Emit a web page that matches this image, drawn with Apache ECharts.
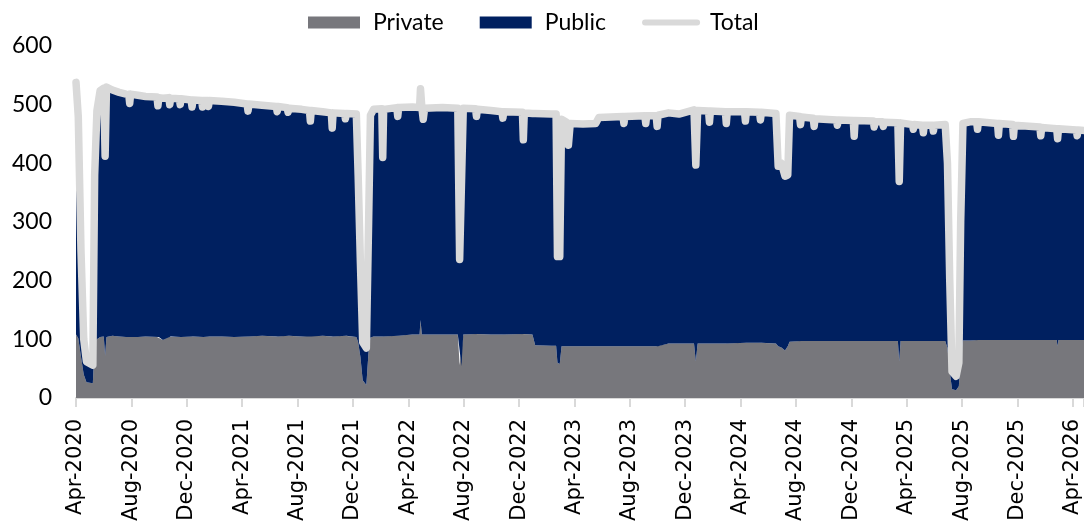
<!DOCTYPE html>
<html>
<head>
<meta charset="utf-8">
<script src="https://cdn.jsdelivr.net/npm/echarts@6/dist/echarts.min.js"></script>
<style>
  html, body { margin: 0; padding: 0; background: #fff; }
  #chart { width: 1084px; height: 524px; }
</style>
</head>
<body>
<div id="chart"></div>
<script>
  // values at its turning points (dips, steps, plateaus)
  const dates = [
    '2020-04-01','2020-04-06','2020-04-12','2020-04-18','2020-04-24','2020-05-08','2020-05-12','2020-05-17','2020-05-24','2020-06-01',
    '2020-06-04','2020-06-07','2020-06-20','2020-07-05','2020-07-20','2020-07-26','2020-07-28','2020-07-30','2020-08-15','2020-09-01',
    '2020-09-26','2020-09-28','2020-09-30','2020-10-09','2020-10-22','2020-10-24','2020-10-26','2020-11-14','2020-11-16','2020-11-18',
    '2020-12-10','2020-12-12','2020-12-14','2021-01-02','2021-01-04','2021-01-06','2021-01-15','2021-01-17','2021-01-19','2021-02-15',
    '2021-03-15','2021-04-12','2021-04-14','2021-04-16','2021-05-15','2021-06-15','2021-06-17','2021-06-19','2021-07-09','2021-07-11',
    '2021-07-13','2021-08-10','2021-08-27','2021-08-29','2021-08-31','2021-09-25','2021-10-14','2021-10-16','2021-10-18','2021-11-12',
    '2021-11-14','2021-11-16','2021-12-08','2021-12-12','2021-12-17','2021-12-22','2021-12-30','2022-01-04','2022-01-08','2022-01-15',
    '2022-02-02','2022-02-04','2022-02-06','2022-03-07','2022-03-09','2022-03-11','2022-04-10','2022-04-26','2022-04-28','2022-05-01',
    '2022-05-04','2022-05-07','2022-06-15','2022-07-19','2022-07-23','2022-07-27','2022-07-31','2022-08-27','2022-08-29','2022-08-31',
    '2022-09-30','2022-10-24','2022-10-26','2022-10-28','2022-12-08','2022-12-10','2022-12-12','2022-12-30','2023-01-05','2023-02-10',
    '2023-02-20','2023-02-23','2023-02-28','2023-03-04','2023-03-15','2023-03-19','2023-03-23','2023-04-20','2023-05-18','2023-05-25',
    '2023-07-17','2023-07-19','2023-07-21','2023-09-03','2023-09-05','2023-09-07','2023-09-28','2023-09-30','2023-10-02','2023-10-25',
    '2023-11-17','2023-12-20','2023-12-24','2023-12-28','2024-01-21','2024-01-23','2024-01-25','2024-02-27','2024-02-29','2024-03-02',
    '2024-04-09','2024-04-11','2024-04-13','2024-05-12','2024-05-14','2024-05-16','2024-06-17','2024-06-22','2024-06-29','2024-07-07',
    '2024-07-13','2024-07-17','2024-08-08','2024-08-10','2024-08-12','2024-09-07','2024-09-09','2024-09-11','2024-10-28','2024-10-30',
    '2024-11-01','2024-12-04','2024-12-06','2024-12-08','2025-01-17','2025-01-19','2025-01-21','2025-02-06','2025-02-08','2025-02-10',
    '2025-03-12','2025-03-15','2025-03-18','2025-04-13','2025-04-15','2025-04-17','2025-05-05','2025-05-07','2025-05-09','2025-05-27',
    '2025-05-29','2025-05-31','2025-06-24','2025-06-29','2025-07-04','2025-07-09','2025-07-18','2025-07-24','2025-07-28','2025-08-02',
    '2025-08-20','2025-09-01','2025-09-03','2025-09-05','2025-10-17','2025-10-19','2025-10-21','2025-11-19','2025-11-21','2025-11-23',
    '2026-01-18','2026-01-20','2026-01-22','2026-02-24','2026-02-26','2026-02-28','2026-04-08','2026-04-10','2026-04-12','2026-04-26'
  ]

  const privateVals = [
    108,102,70,40,27,25,95,100,104,105,
    72,104,106,105,104,105,103,104,104,105,
    104,103,104,99,104,103,105,104,103,104,
    105,104,105,104,103,104,105,104,105,105,
    104,105,104,105,106,105,104,105,106,104,
    106,105,106,104,105,106,105,104,105,106,
    105,106,104,95,70,30,22,80,103,105,
    105,103,105,106,105,106,108,108,133,108,
    107,108,108,108,56,54,108,109,108,109,
    108,108,107,108,109,108,109,108,90,89,
    89,60,58,88,88,87,88,88,88,88,
    88,87,88,88,87,88,88,87,88,93,
    93,93,62,93,93,92,93,93,92,93,
    94,93,94,94,93,94,93,88,86,81,
    88,96,97,96,97,97,96,97,97,96,
    97,97,96,97,97,96,97,97,96,97,
    97,62,97,97,96,97,97,96,97,97,
    96,97,97,85,45,15,13,20,70,98,
    98,99,98,99,99,98,99,99,98,99,
    99,98,99,99,88,99,99,98,99,99
  ]

  const publicVals = [
    430,378,180,60,35,31,285,390,420,423,
    340,426,419,416,414,412,399,414,412,409,
    409,395,408,412,408,397,406,406,397,406,
    403,392,403,403,393,403,402,393,402,401,
    400,396,385,396,393,392,384,392,389,383,
    388,387,384,368,385,382,381,356,381,379,
    371,379,380,285,160,65,63,220,379,387,
    388,307,387,389,375,389,388,387,394,387,
    368,386,387,386,180,182,386,384,372,383,
    382,380,370,380,378,332,377,377,395,395,
    395,181,183,387,382,344,380,379,380,390,
    392,381,392,393,381,393,393,376,394,393,
    391,398,335,397,396,378,396,395,376,395,
    394,379,394,393,381,393,392,307,314,297,
    292,386,383,370,382,380,367,379,377,369,
    377,376,350,376,375,366,374,374,367,373,
    372,307,372,369,362,369,368,356,368,368,
    359,368,369,315,155,30,24,40,230,370,
    373,372,360,372,369,350,369,367,348,366,
    363,349,362,360,354,360,358,349,358,357
  ]

  const totalVals = [
    538,480,250,100,62,56,380,490,524,528,
    412,530,525,521,518,517,502,518,516,514,
    513,498,512,511,512,500,511,510,500,510,
    508,496,508,507,496,507,507,497,507,506,
    504,501,489,501,499,497,488,497,495,487,
    494,492,490,472,490,488,486,460,486,485,
    476,485,484,380,230,95,85,300,482,492,
    493,410,492,495,480,495,496,495,527,495,
    475,494,495,494,236,236,494,493,480,492,
    490,488,477,488,487,440,486,485,485,484,
    484,241,241,475,470,431,468,467,468,478,
    480,468,480,481,468,481,481,463,482,486,
    484,491,397,490,489,470,489,488,468,488,
    488,472,488,487,474,487,485,395,400,378,
    380,482,480,466,479,477,463,476,474,465,
    474,473,446,473,472,462,471,471,463,470,
    469,369,469,466,458,466,465,452,465,465,
    455,465,466,400,200,45,37,60,300,468,
    471,471,458,471,468,448,468,466,446,465,
    462,447,461,459,442,459,457,447,457,456
  ]

  const tickLabels = ['Apr-2020', 'Aug-2020', 'Dec-2020', 'Apr-2021', 'Aug-2021', 'Dec-2021', 'Apr-2022',
    'Aug-2022', 'Dec-2022', 'Apr-2023', 'Aug-2023', 'Dec-2023', 'Apr-2024', 'Aug-2024', 'Dec-2024',
    'Apr-2025', 'Aug-2025', 'Dec-2025', 'Apr-2026']

  const pairs = vals => vals.map((v, i) => [dates[i], v])

  const myChart = echarts.init(document.getElementById('chart'))
  const option = {
    animation: false,
    grid: { left: 76, right: 0, top: 46, bottom: 124.5 },
    legend: {
      top: 6,
      left: 303,
      itemWidth: 52,
      itemHeight: 12,
      itemGap: 36,
      textStyle: { fontFamily: 'Lato', fontSize: 23, color: '#000', padding: [0, 0, 0, 8] },
      data: [
        { name: 'Private', icon: 'rect' },
        { name: 'Public', icon: 'rect' },
        { name: 'Total', itemStyle: { opacity: 0 }, lineStyle: { width: 6, cap: 'round' } }
      ]
    },
    xAxis: [
      {
        // time axis that carries the data
        type: 'time',
        min: '2020-04-01',
        max: '2026-04-25',
        show: false
      },
      {
        // months since Apr-2020, only for the evenly spaced 4-month ticks
        type: 'value',
        position: 'bottom',
        min: 0,
        max: 72.8,
        interval: 4,
        splitLine: { show: false },
        axisLine: { show: true, lineStyle: { color: '#D9D9D9', width: 2 } },
        axisTick: { show: true, length: 9, lineStyle: { color: '#D9D9D9', width: 2 } },
        axisLabel: {
          rotate: 90,
          margin: 21,
          fontFamily: 'DejaVu Sans',
          fontSize: 21,
          color: '#000',
          formatter: v => (v % 4 === 0 ? tickLabels[v / 4] : '')
        }
      }
    ],
    yAxis: {
      type: 'value',
      min: 0,
      max: 600,
      interval: 100,
      splitLine: { show: false },
      axisLine: { show: false },
      axisTick: { show: false },
      axisLabel: { fontFamily: 'Lato', fontSize: 23, color: '#000', margin: 24 }
    },
    series: [
      {
        name: 'Private',
        type: 'line',
        stack: 'all',
        symbol: 'none',
        color: '#77777C',
        lineStyle: { width: 0 },
        areaStyle: { color: '#77777C', opacity: 1 },
        data: pairs(privateVals)
      },
      {
        name: 'Public',
        type: 'line',
        stack: 'all',
        symbol: 'none',
        color: '#002060',
        lineStyle: { width: 0 },
        areaStyle: { color: '#002060', opacity: 1 },
        data: pairs(publicVals)
      },
      {
        name: 'Total',
        type: 'line',
        symbol: 'none',
        color: '#D9D9D9',
        z: 3,
        lineStyle: { width: 7.5, color: '#D9D9D9', cap: 'round', join: 'round' },
        data: pairs(totalVals)
      }
    ]
  }
  myChart.setOption(option)
</script>
</body>
</html>
